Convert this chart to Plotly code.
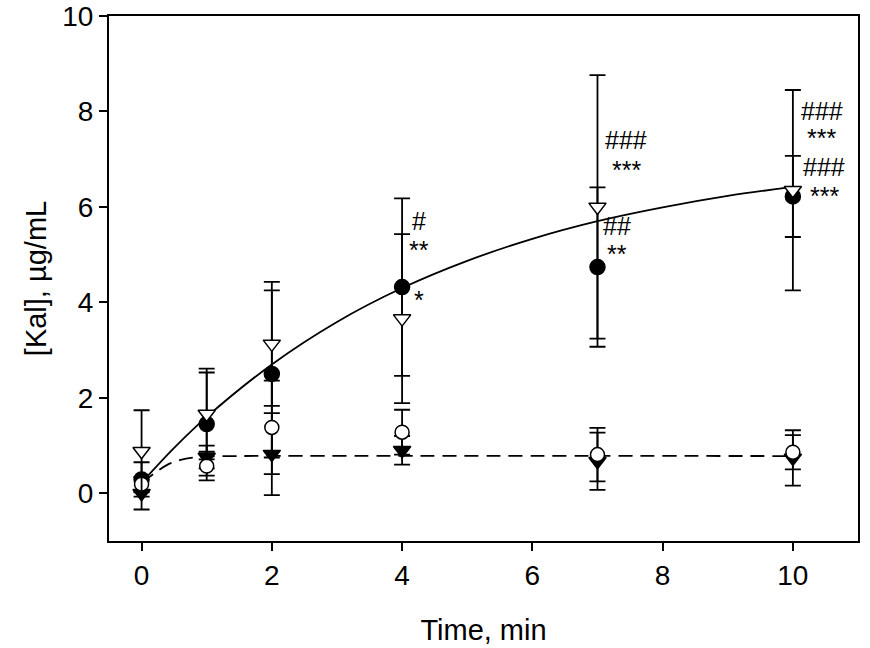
import plotly.graph_objects as go

time_min = [0, 1, 2, 4, 7, 10]

filled_circle = [0.29, 1.45, 2.50, 4.32, 4.74, 6.22]
filled_circle_err = [0.36, 1.08, 1.75, 1.86, 1.67, 0.85]

open_tri = [0.88, 1.66, 3.13, 3.66, 6.00, 6.35]
open_tri_err = [0.86, 0.95, 1.30, 1.77, 2.76, 2.10]

open_circle = [0.19, 0.57, 1.38, 1.28, 0.81, 0.86]
open_circle_err = [0.15, 0.30, 0.98, 0.47, 0.56, 0.36]

filled_tri = [0.00, 0.76, 0.82, 0.90, 0.67, 0.74]
filled_tri_err = [0.34, 0.24, 0.86, 0.30, 0.60, 0.58]

# fitted curves
solid_t = [0, 0.5, 1, 2, 3, 4, 5, 6, 7, 8, 9, 10]
solid_y = [0.22, 0.95, 1.60, 2.70, 3.59, 4.30, 4.87, 5.33, 5.70, 5.99, 6.23, 6.42]
dash_t = [0, 0.2, 0.4, 0.6, 0.8, 1.0, 1.5, 10]
dash_y = [0.22, 0.42, 0.60, 0.70, 0.75, 0.77, 0.78, 0.78]

ann_text = ["#", "**", "*", "###", "***", "##", "**", "###", "***", "###", "***"]
ann_x = [4.26, 4.26, 4.26, 7.44, 7.44, 7.30, 7.30, 10.44, 10.44, 10.48, 10.48]
ann_y = [5.70, 5.10, 4.05, 7.40, 6.78, 5.60, 5.02, 8.02, 7.45, 6.84, 6.22]

FONT = "Arial, Liberation Sans, sans-serif"

fig = go.Figure()

fig.add_trace(go.Scatter(x=solid_t, y=solid_y, mode="lines", line_shape="spline",
                         line=dict(color="black", width=1.8), showlegend=False, hoverinfo="skip"))
fig.add_trace(go.Scatter(x=dash_t, y=dash_y, mode="lines", line_shape="spline",
                         line=dict(color="black", width=1.8, dash="14px,8px"), showlegend=False,
                         hoverinfo="skip"))

def err(vals):
    return dict(type="data", array=vals, visible=True, color="black", thickness=1.8, width=8)

fig.add_trace(go.Scatter(x=time_min, y=filled_tri, mode="markers", error_y=err(filled_tri_err),
                         marker=dict(symbol="triangle-down", size=15, color="black",
                                     line=dict(color="black", width=1.5)), showlegend=False))
fig.add_trace(go.Scatter(x=time_min, y=filled_circle, mode="markers", error_y=err(filled_circle_err),
                         marker=dict(symbol="circle", size=15, color="black",
                                     line=dict(color="black", width=1.5)), showlegend=False))
fig.add_trace(go.Scatter(x=time_min, y=open_circle, mode="markers", error_y=err(open_circle_err),
                         marker=dict(symbol="circle", size=14, color="white",
                                     line=dict(color="black", width=1.5)), showlegend=False))
fig.add_trace(go.Scatter(x=time_min, y=open_tri, mode="markers", error_y=err(open_tri_err),
                         marker=dict(symbol="triangle-down", size=15, color="white",
                                     line=dict(color="black", width=1.5)), showlegend=False))

for t, x, y in zip(ann_text, ann_x, ann_y):
    fig.add_annotation(x=x, y=y, text=t, showarrow=False, xanchor="center", yanchor="middle",
                       font=dict(family=FONT, size=25, color="black"))

fig.update_layout(
    width=870, height=648,
    margin=dict(l=109, r=12, t=16, b=107),
    paper_bgcolor="white", plot_bgcolor="white",
    font=dict(family=FONT, size=28, color="black"),
    showlegend=False,
)
fig.update_xaxes(range=[-0.5, 11], tickvals=[0, 2, 4, 6, 8, 10], ticks="outside", ticklen=8,
                 tickwidth=2, tickcolor="black", showline=True, linecolor="black", linewidth=2,
                 mirror=True, showgrid=False, zeroline=False, automargin=False,
                 ticklabeloverflow="allow",
                 title=dict(text="Time, min", font=dict(size=29), standoff=30))
fig.update_yaxes(range=[-1, 10], tickvals=[0, 2, 4, 6, 8, 10], ticks="outside", ticklen=8,
                 tickwidth=2, tickcolor="black", showline=True, linecolor="black", linewidth=2,
                 mirror=True, showgrid=False, zeroline=False, automargin=False,
                 ticklabeloverflow="allow",
                 title=dict(text="[Kal], µg/mL", font=dict(size=29), standoff=7))

fig.write_html("out.html", config={"displayModeBar": False},
               post_script="document.body.style.margin='0px';document.body.style.overflow='hidden';")
